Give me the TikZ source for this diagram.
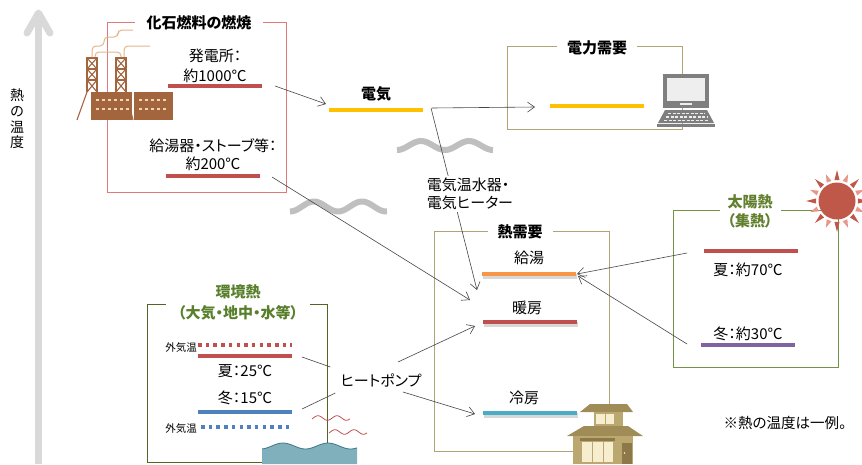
\documentclass[tikz,border=0pt]{standalone}
\usepackage{fontspec}
\setmainfont{Noto Sans CJK JP}[RawFeature=+palt]
\usepackage{tikz}
\usetikzlibrary{arrows.meta}
\usetikzlibrary{shadows}

\definecolor{axisgray}{RGB}{217,217,217}
\definecolor{linegray}{RGB}{70,70,70}
\definecolor{wavegray}{RGB}{191,191,191}
\definecolor{fossilred}{RGB}{222,122,122}
\definecolor{barred}{RGB}{192,80,77}
\definecolor{elecyellow}{RGB}{255,192,0}
\definecolor{hotorange}{RGB}{247,150,70}
\definecolor{coolcyan}{RGB}{75,172,198}
\definecolor{coldblue}{RGB}{79,129,189}
\definecolor{winterpurple}{RGB}{128,100,162}
\definecolor{khakiline}{RGB}{176,164,116}
\definecolor{solargreen}{RGB}{118,146,70}
\definecolor{solartitle}{RGB}{98,128,46}
\definecolor{envgreen}{RGB}{82,100,38}
\definecolor{envtitle}{RGB}{88,128,44}
\definecolor{factorybrown}{RGB}{163,101,62}
\definecolor{smoketan}{RGB}{228,182,140}
\definecolor{windowcream}{RGB}{240,214,170}
\definecolor{laptopgray}{RGB}{127,127,127}
\definecolor{screengray}{RGB}{238,238,238}
\definecolor{sunred}{RGB}{192,88,74}
\definecolor{sunpink}{RGB}{232,150,135}
\definecolor{roofkhaki}{RGB}{160,140,86}
\definecolor{wallkhaki}{RGB}{186,168,112}
\definecolor{housecream}{RGB}{246,238,206}
\definecolor{doorbrown}{RGB}{140,120,72}
\definecolor{watercolor}{RGB}{127,176,188}
\definecolor{waterdark}{RGB}{60,120,135}

\tikzstyle{txt} = [font=\fontsize{15}{18}\selectfont, inner sep=1pt]
\tikzstyle{small} = [font=\fontsize{10.5}{12}\selectfont, inner sep=0pt]
\tikzstyle{heading} = [font=\fontsize{15}{18}\selectfont\bfseries, inner sep=1pt]
\tikzstyle{boxtitle} = [font=\fontsize{15}{19}\selectfont\bfseries, fill=white, inner xsep=10pt, inner ysep=1pt, align=center]
\tikzstyle{tempbar} = [rectangle, minimum width=94pt, minimum height=4.5pt, inner sep=0pt, outer sep=0pt]
\tikzstyle{shadowed} = [drop shadow={shadow xshift=0.5pt, shadow yshift=-2.5pt, fill=black!30}]
\tikzstyle{flow} = [draw=linegray, line width=0.6pt, ->]
\tikzstyle{link} = [draw=linegray, line width=0.6pt]
\tikzstyle{wave} = [draw=wavegray, line width=6pt]
\tikzstyle{ripple} = [draw=barred, line width=0.8pt]
\tikzstyle{tower} = [draw=factorybrown, line width=1.1pt]
\tikzstyle{smoke} = [draw=smoketan, line width=1pt, rounded corners=4pt]

\begin{document}
\begin{tikzpicture}[x=1pt, y=-1pt, node distance=20pt, >={Straight Barb[length=7pt,width=10pt]}]
\useasboundingbox (0,0) rectangle (862,464);

\draw[axisgray, line width=7pt] (38.5,464) -- (38.5,16);
\draw[axisgray, line width=7pt, line cap=round, line join=round] (27,33) -- (38.5,13) -- (50,33);
\node (axis) [font=\fontsize{14}{15.7}\selectfont, align=center, inner sep=0pt] at (17,119) {熱\\の\\温\\度};

\draw[fossilred, line width=0.9pt] (107,22) rectangle (286,192);
\draw[khakiline, line width=0.9pt] (507,46) rectangle (682,129);
\draw[khakiline, line width=0.9pt] (434,231) rectangle (609,451);
\draw[solargreen, line width=0.9pt] (673,210) rectangle (838,367);
\draw[envgreen, line width=0.9pt] (147,304) rectangle (327,462);

\node (fossil) [boxtitle, inner xsep=12pt] at (199,23) {化石燃料の燃焼};
\node (power) [boxtitle] at (597,48) {電力需要};
\node (heat) [boxtitle] at (520,232) {熱需要};
\node (solar) [boxtitle, text=solartitle, inner xsep=8pt] at (750,211) {太陽熱\\（集熱）};
\node (env) [boxtitle, text=envtitle, inner xsep=12pt] at (238,302) {環境熱\\[2pt]（大気・地中・水等）};

\foreach \tx in {87,116} {
  \draw[tower] (\tx,58) -- (\tx,92) (\tx+10,58) -- (\tx+10,92);
  \draw[tower] (\tx-1,58) -- (\tx+11,58) (\tx,69) -- (\tx+10,69) (\tx,80) -- (\tx+10,80);
  \draw[tower] (\tx,58) -- (\tx+10,69) -- (\tx,80) -- (\tx+10,92) (\tx+10,58) -- (\tx,69) -- (\tx+10,80) -- (\tx,92);
}
\draw[tower] (87,92) -- (77,120) (97,92) -- (101,120) (116,92) -- (110,120) (126,92) -- (133,120);
\draw[smoke] (92,57) |- (104,46) |- (118,37) |- (133,30);
\draw[smoke] (95,57) |- (121,52) -- (121,57);
\draw[smoke] (124,57) |- (150,46);
\fill[factorybrown] (91,92) rectangle (132,120);
\fill[factorybrown] (134,92) rectangle (173,120);
\foreach \wx in {96,102,...,126} {
  \fill[windowcream] (\wx,99) rectangle +(3,2);
  \fill[windowcream] (\wx,108) rectangle +(3,2);
}
\foreach \wx in {139,145,...,163} {
  \fill[windowcream] (\wx,99) rectangle +(3,2);
  \fill[windowcream] (\wx,108) rectangle +(3,2);
}

\node (hatsuden) [txt] at (215,56) {発電所：};
\node (t1000) [txt, below of=hatsuden] {約1000℃};
\node (b1000) [tempbar, fill=barred, below of=t1000, yshift=10pt] {};
\node (kyutoki) [txt] at (213,146) {給湯器・ストーブ等：};
\node (t200) [txt, below of=kyutoki, yshift=2pt] {約200℃};
\node (b200) [tempbar, fill=barred, below of=t200, yshift=8pt] {};

\node (elec) [heading] at (376,94) {電気};
\node (ebar) [tempbar, fill=elecyellow, below of=elec, yshift=4pt] {};
\node (pbar) [tempbar, fill=elecyellow] at (597,106) {};

\fill[laptopgray] (663,74) rectangle (709,108);
\fill[screengray] (667,78) rectangle (705,101);
\fill[screengray] (680,103) rectangle (692,105);
\fill[laptopgray] (665,110) -- (707,110) -- (714,123) -- (658,123) -- cycle;
\draw[screengray, line width=1.5pt, dash pattern=on 3pt off 1.5pt] (668,113.5) -- (705,113.5) (666,117) -- (707,117) (664,120.5) -- (709,120.5);
\fill[laptopgray] (657,124) rectangle (715,126.5);

\node (kyuto) [txt] at (529,258) {給湯};
\node (kbar) [tempbar, fill=hotorange, shadowed, below of=kyuto, yshift=4pt] {};
\node (danbo) [txt] at (527,308) {暖房};
\node (dbar) [tempbar, fill=barred, shadowed, below of=danbo, xshift=3pt, yshift=6pt] {};
\node (reibo) [txt] at (524,398) {冷房};
\node (rbar) [tempbar, fill=coolcyan, shadowed, below of=reibo, xshift=6pt, yshift=5pt] {};

\fill[roofkhaki] (590,404) -- (627,404) -- (633,412) -- (580,412) -- cycle;
\fill[wallkhaki] (594,412) rectangle (623,426);
\fill[housecream] (596,414) rectangle (614,424);
\draw[wallkhaki, line width=1pt] (605,414) -- (605,424);
\fill[roofkhaki] (584,426) -- (628,426) -- (643,436) -- (567,436) -- cycle;
\fill[wallkhaki] (573,436) rectangle (633,464);
\fill[doorbrown] (580,438) rectangle (615,441);
\fill[housecream] (582,442) rectangle (613,462);
\draw[wallkhaki, line width=1pt] (592,442) -- (592,462) (603,442) -- (603,462);
\fill[doorbrown] (622,443) rectangle (632,464);
\fill[housecream] (624.5,453) circle (0.8pt);

\node (s70bar) [tempbar, fill=barred] at (751,251) {};
\node (s70) [txt, below of=s70bar, xshift=-3pt, yshift=1pt] {夏：約70℃};
\node (s30) [txt] at (748,334) {冬：約30℃};
\node (s30bar) [tempbar, fill=winterpurple, below of=s30, yshift=9pt] {};

\foreach \a in {0,45,...,315}
  \fill[sunred] ({837+21*cos(\a-7)},{201+21*sin(\a-7)}) -- ({837+31*cos(\a)},{201+31*sin(\a)}) -- ({837+21*cos(\a+7)},{201+21*sin(\a+7)}) -- cycle;
\foreach \a in {22.5,67.5,...,337.5}
  \fill[sunpink] ({837+21*cos(\a-7)},{201+21*sin(\a-7)}) -- ({837+29*cos(\a)},{201+29*sin(\a)}) -- ({837+21*cos(\a+7)},{201+21*sin(\a+7)}) -- cycle;
\fill[sunred] (837,201) circle (18.5pt);

\node (gaikion1) [small] at (181,348) {外気温};
\draw[barred, line width=3.5pt, dash pattern=on 3.5pt off 4.2pt] (198,345) -- (292,345);
\node (e25bar) [tempbar, fill=barred] at (245,356) {};
\node (e25) [txt, below of=e25bar, yshift=5pt] {夏：25℃};
\node (e15) [txt, below of=e25, yshift=-7pt] {冬：15℃};
\node (e15bar) [tempbar, fill=coldblue, below of=e15, yshift=6pt] {};
\node (gaikion2) [small] at (181,429) {外気温};
\draw[coldblue, line width=3.5pt, dash pattern=on 3.5pt off 4.2pt] (201,427) -- (293,427);

\fill[watercolor] (262,464) -- plot[domain=262:357, samples=40, smooth] (\x,{446-3*cos((\x-283)*8)}) -- (357,464) -- cycle;
\draw[waterdark, line width=0.8pt] plot[domain=262:357, samples=40, smooth] (\x,{446-3*cos((\x-283)*8)});
\draw[ripple] plot[domain=312:350, samples=30, smooth] (\x,{418-2.3*cos((\x-318)*19)});
\draw[ripple] plot[domain=329:367, samples=30, smooth] (\x,{432-2.3*cos((\x-335)*19)});

\draw[wave] plot[domain=0:96, samples=49, smooth] ({\x+397},{145.5+4.5*cos(\x*7.5)});
\draw[wave] plot[domain=0:97, samples=49, smooth] ({\x+290},{206.5+5*cos(\x*7.5)});

\node (hp) [txt] at (381,380) {ヒートポンプ};
\node (note) [txt, font=\fontsize{14.5}{17}\selectfont] at (785,423) {※熱の温度は一例。};

\draw[flow] ([shift={(13,0)}]b1000.east) -- ([shift={(-3,-6)}]ebar.west);
\draw[flow] ([shift={(12,1)}]b200.east) -- ([shift={(-13,-22)}]dbar.west);
\draw[flow] ([shift={(9,-2)}]ebar.east) -- ([shift={(-15,1)}]pbar.west);
\draw[flow] ([shift={(8,-2)}]ebar.east) -- ([shift={(-5,16)}]kbar.west);
\draw[flow] ([shift={(-17,2)}]s70bar.west) -- ([shift={(1,0)}]kbar.east);
\draw[flow] ([shift={(-14,-1)}]s30bar.west) -- ([shift={(2,2)}]kbar.east);
\draw[link] ([shift={(10,1)}]e25bar.east) -- ([shift={(-9,-13)}]hp.west);
\draw[link] ([shift={(10,-3)}]e15bar.east) -- ([shift={(-4,13)}]hp.west);
\draw[flow] ([shift={(17,-18)}]hp.center) -- ([shift={(-8,4)}]dbar.west);
\draw[flow] ([shift={(22,12)}]hp.center) -- ([shift={(-8,1)}]rbar.west);

\node (heater) [txt, fill=white, align=left, inner sep=2pt] at (470,194) {電気温水器・\\電気ヒーター};
\end{tikzpicture}
\end{document}
